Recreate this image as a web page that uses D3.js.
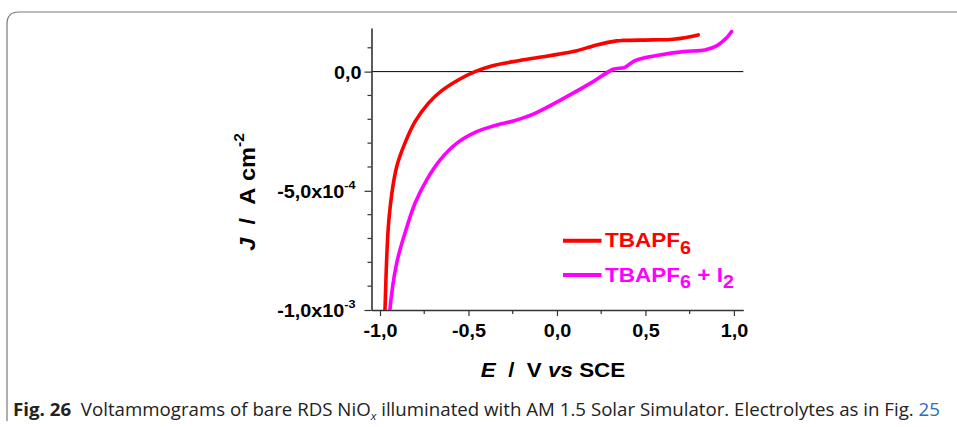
<!DOCTYPE html>
<html><head><meta charset="utf-8">
<script src="https://cdn.jsdelivr.net/npm/d3@7/dist/d3.min.js"></script>
<style>html,body{margin:0;padding:0;background:#fff;}svg{display:block;}text{white-space:pre;}</style>
</head><body>
<script>
// Data (E in V vs SCE, J in A cm^-2)
const redE = [-0.975,-0.972,-0.949,-0.906,-0.859,-0.802,-0.727,-0.651,-0.558,-0.463,-0.369,-0.247,-0.134,0.092,0.224,0.337,0.375,0.544,0.657,0.798];
const redJ = [-1.05e-3,-1.0e-3,-6.15e-4,-4.0e-4,-3.0e-4,-2.1e-4,-1.33e-4,-0.80e-4,-0.35e-4,0,0.24e-4,0.42e-4,0.56e-4,0.84e-4,1.12e-4,1.29e-4,1.31e-4,1.33e-4,1.36e-4,1.54e-4];
const magE = [-0.947,-0.944,-0.906,-0.859,-0.802,-0.736,-0.661,-0.565,-0.453,-0.339,-0.247,-0.134,0.055,0.205,0.318,0.384,0.441,0.582,0.714,0.836,0.902,0.959,0.987];
const magJ = [-1.05e-3,-1.0e-3,-8.04e-4,-6.78e-4,-5.52e-4,-4.54e-4,-3.71e-4,-3.0e-4,-2.52e-4,-2.24e-4,-2.07e-4,-1.78e-4,-1.05e-4,-0.42e-4,0.10e-4,0.18e-4,0.46e-4,0.70e-4,0.84e-4,0.91e-4,1.08e-4,1.42e-4,1.68e-4];
const xTicks = [-1.0,-0.5,0.0,0.5,1.0];
const xTickLabels = ["-1,0","-0,5","0,0","0,5","1,0"];
const xMinor = [-0.75,-0.25,0.25,0.75];
const yTicks = [0,-5e-4,-1e-3];
const yTickMant = ["0,0","-5,0x10","-1,0x10"];
const yTickExp = ["","-4","-3"];
const yMinor = [1e-4,-1e-4,-2e-4,-3e-4,-4e-4,-6e-4,-7e-4,-8e-4,-9e-4];
const seriesNames = ["TBAPF","TBAPF"];
const seriesColors = ["#ff0000","#ff00ff"];

const W=957,H=427, SX=1.1;
const svg=d3.select("body").append("svg").attr("width",W).attr("height",H);
const x=d3.scaleLinear().domain([-1.048,1.053]).range([371.5,743.3]);
const y=d3.scaleLinear().domain([-1e-3,1.83e-4]).range([310,28]);
const F="'Liberation Sans', Arial, sans-serif";

// border
svg.append("path").attr("d","M7,421 L7,24 Q7,12 19,12 L957,12").attr("fill","none").attr("stroke","#7a7a7a").attr("stroke-width",1.2);

// clip
svg.append("defs").append("clipPath").attr("id","clip").append("rect")
  .attr("x",x.range()[0]).attr("y",y.range()[1]-10).attr("width",x.range()[1]-x.range()[0]+5).attr("height",y.range()[0]-y.range()[1]+10);

// zero line
svg.append("line").attr("x1",x.range()[0]).attr("x2",x.range()[1]).attr("y1",y(0)).attr("y2",y(0)).attr("stroke","#000").attr("stroke-width",1);

// axes
const axC="#333";
const gx=svg.append("g").attr("transform",`translate(0,${y.range()[0]})`);
gx.call(d3.axisBottom(x).tickValues(xTicks).tickSize(6).tickSizeOuter(0).tickFormat((d,i)=>xTickLabels[i]));
gx.append("g").selectAll("line").data(xMinor).join("line").attr("x1",d=>x(d)).attr("x2",d=>x(d)).attr("y1",0).attr("y2",4).attr("stroke",axC).attr("stroke-width",1.2);
gx.select(".domain").attr("stroke",axC).attr("stroke-width",1.6);
gx.selectAll(".tick line").attr("stroke",axC).attr("stroke-width",1.2);
gx.selectAll(".tick text").attr("font-family",F).attr("font-weight","bold").attr("font-size",18).attr("fill","#000")
  .attr("dy",0).attr("y",26.7).attr("transform",`scale(${SX},1)`);

const gy=svg.append("g").attr("transform",`translate(${x.range()[0]},0)`);
gy.call(d3.axisLeft(y).tickValues(yTicks).tickSize(7).tickSizeOuter(0).tickFormat(""));
gy.append("g").selectAll("line").data(yMinor).join("line").attr("y1",d=>y(d)).attr("y2",d=>y(d)).attr("x1",0).attr("x2",-4).attr("stroke",axC).attr("stroke-width",1.2);
gy.select(".domain").attr("stroke",axC).attr("stroke-width",1.6);
gy.selectAll(".tick line").attr("stroke",axC).attr("stroke-width",1.2);
gy.selectAll(".tick").each(function(d,i){
  const off = yTickExp[i] ? -16 : -10;
  const t=d3.select(this).append("text").attr("x",off/SX).attr("y",0).attr("dy","0.36em").attr("text-anchor","end")
    .attr("transform",`scale(${SX},1)`)
    .attr("font-family",F).attr("font-weight","bold").attr("font-size",18).attr("fill","#000");
  t.append("tspan").text(yTickMant[i]);
  if(yTickExp[i]) t.append("tspan").attr("font-size",11.5).attr("dy","-0.8em").text(yTickExp[i]);
});

// curves
const lineL=d3.line().x(d=>x(d[0])).y(d=>y(d[1])).curve(d3.curveCatmullRom.alpha(0.5));
const series=[d3.zip(redE,redJ), d3.zip(magE,magJ)];
const cg=svg.append("g").attr("clip-path","url(#clip)");
series.forEach((s,i)=>{
  cg.append("path").attr("d",lineL(s)).attr("fill","none").attr("stroke",seriesColors[i]).attr("stroke-width",3.6).attr("stroke-linejoin","round").attr("stroke-linecap","round");
});

// legend
const legY=[240.7,275];
seriesColors.forEach((c,i)=>{
  svg.append("line").attr("x1",563).attr("x2",601.5).attr("y1",legY[i]).attr("y2",legY[i]).attr("stroke",c).attr("stroke-width",4);
  const t=svg.append("text").attr("transform",`translate(605,${legY[i]+6.5}) scale(${SX},1)`).attr("font-family",F).attr("font-weight","bold").attr("font-size",20.5).attr("fill",c);
  t.append("tspan").text(seriesNames[i]);
  t.append("tspan").attr("font-size",18).attr("dy",6.5).text("6");
  if(i===1){
    t.append("tspan").attr("dy",-6.5).text(" + I");
    t.append("tspan").attr("font-size",18).attr("dy",6.5).text("2");
  }
});

// axis titles
const xt=svg.append("text").attr("transform",`translate(553,377.3) scale(1.12,1)`).attr("text-anchor","middle").attr("font-family",F).attr("font-weight","bold").attr("font-size",20).attr("fill","#000");
xt.append("tspan").attr("font-style","italic").text("E");
xt.append("tspan").text("\u00a0\u00a0/\u00a0\u00a0V\u00a0");
xt.append("tspan").attr("font-style","italic").text("vs");
xt.append("tspan").text("\u00a0SCE");

const yt=svg.append("text").attr("transform","translate(254.5,192) rotate(-90) scale(1.1,1)").attr("text-anchor","middle").attr("font-family",F).attr("font-weight","bold").attr("font-size",21.5).attr("fill","#000");
yt.append("tspan").attr("font-style","italic").text("J");
yt.append("tspan").text("\u00a0\u00a0/\u00a0\u00a0A\u00a0cm");
yt.append("tspan").attr("font-size",14).attr("dy","-0.75em").text("-2");

// caption
const cap=svg.append("text").attr("x",13).attr("y",416).attr("font-family","'Open Sans', 'Noto Sans', sans-serif").attr("font-size",17.5).attr("fill","#222")
  .attr("textLength",927).attr("lengthAdjust","spacingAndGlyphs");
cap.append("tspan").attr("font-weight","bold").text("Fig. 26");
cap.append("tspan").text("\u00a0\u00a0Voltammograms of bare RDS NiO");
cap.append("tspan").attr("font-size",11).attr("font-style","italic").attr("dy",3.5).text("x");
cap.append("tspan").attr("dy",-3.5).text(" illuminated with AM 1.5 Solar Simulator. Electrolytes as in Fig. ");
cap.append("tspan").attr("fill","#2a6ebb").text("25");
</script>
</body></html>
